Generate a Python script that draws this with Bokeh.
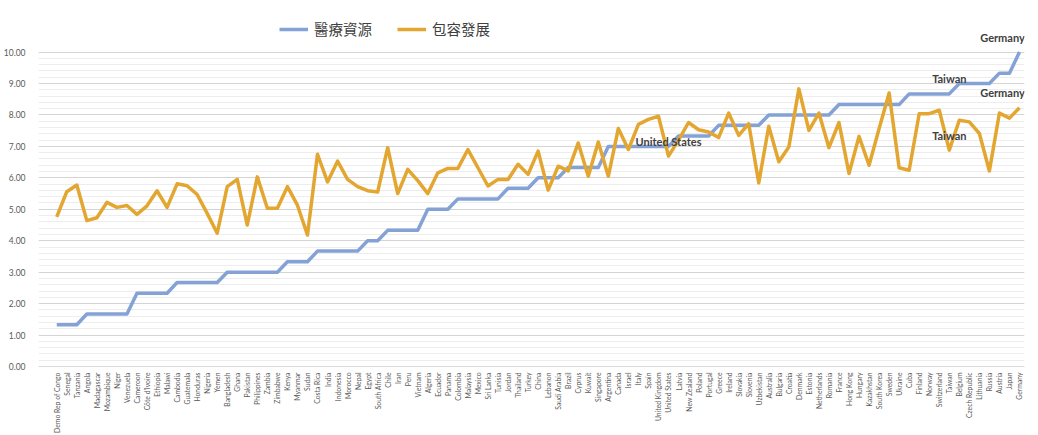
import math
from bokeh.plotting import figure
from bokeh.models import (Range1d, FixedTicker, Legend, LegendItem,
                          Label, ColumnDataSource, NumeralTickFormatter)
from bokeh.embed import file_html
from bokeh.resources import INLINE

countries = [
    "Demo Rep of Congo", "Senegal", "Tanzania", "Angola", "Madagascar", "Mozambique", "Niger",
    "Venezuela", "Cameroon", "Côte d'Ivoire", "Ethiopia", "Malawi", "Cambodia", "Guatemala",
    "Honduras", "Nigeria", "Yemen", "Bangladesh", "Ghana", "Pakistan", "Philippines", "Zambia",
    "Zimbabwe", "Kenya", "Myanmar", "Sudan", "Costa Rica", "India", "Indonesia", "Morocco",
    "Nepal", "Egypt", "South Africa", "Chile", "Iran", "Peru", "Vietnam", "Algeria", "Ecuador",
    "Panama", "Colombia", "Malaysia", "Mexico", "Sri Lanka", "Tunisia", "Jordan", "Thailand",
    "Turkey", "China", "Lebanon", "Saudi Arabia", "Brazil", "Cyprus", "Kuwait", "Singapore",
    "Argentina", "Canada", "Israel", "Italy", "Spain", "United Kingdom", "United States",
    "Latvia", "New Zealand", "Poland", "Portugal", "Greece", "Ireland", "Slovakia", "Slovenia",
    "Uzbekistan", "Australia", "Bulgaria", "Croatia", "Denmark", "Estonia", "Netherlands",
    "Romania", "France", "Hong Kong", "Hungary", "Kazakhstan", "South Korea", "Sweden",
    "Ukraine", "Cuba", "Finland", "Norway", "Switzerland", "Taiwan", "Belgium",
    "Czech Republic", "Lithuania", "Russia", "Austria", "Japan", "Germany",
]

# 醫療資源
medical = [
    1.33, 1.33, 1.33,
    1.67, 1.67, 1.67, 1.67, 1.67,
    2.33, 2.33, 2.33, 2.33,
    2.67, 2.67, 2.67, 2.67, 2.67,
    3.00, 3.00, 3.00, 3.00, 3.00, 3.00,
    3.33, 3.33, 3.33,
    3.67, 3.67, 3.67, 3.67, 3.67,
    4.00, 4.00,
    4.33, 4.33, 4.33, 4.33,
    5.00, 5.00, 5.00,
    5.33, 5.33, 5.33, 5.33, 5.33,
    5.67, 5.67, 5.67,
    6.00, 6.00, 6.00,
    6.33, 6.33, 6.33, 6.33,
    7.00, 7.00, 7.00, 7.00, 7.00, 7.00, 7.00,
    7.33, 7.33, 7.33, 7.33,
    7.67, 7.67, 7.67, 7.67, 7.67,
    8.00, 8.00, 8.00, 8.00, 8.00, 8.00, 8.00,
    8.33, 8.33, 8.33, 8.33, 8.33, 8.33, 8.33,
    8.67, 8.67, 8.67, 8.67, 8.67,
    9.00, 9.00, 9.00, 9.00,
    9.33, 9.33,
    10.00,
]

# 包容發展
inclusive = [
    4.76, 5.56, 5.77, 4.64, 4.73, 5.22, 5.06, 5.12, 4.84, 5.11,
    5.59, 5.06, 5.81, 5.75, 5.47, 4.87, 4.24, 5.72, 5.95, 4.50,
    6.03, 5.03, 5.03, 5.72, 5.13, 4.18, 6.75, 5.87, 6.53, 5.95,
    5.72, 5.59, 5.55, 6.96, 5.50, 6.27, 5.91, 5.50, 6.16, 6.30,
    6.30, 6.90, 6.32, 5.74, 5.95, 5.95, 6.43, 6.11, 6.85, 5.61,
    6.37, 6.22, 7.11, 6.05, 7.14, 6.05, 7.57, 6.90, 7.70, 7.86,
    7.96, 6.69, 7.20, 7.76, 7.53, 7.46, 7.28, 8.06, 7.35, 7.72,
    5.84, 7.64, 6.51, 6.98, 8.83, 7.51, 8.06, 6.96, 7.76, 6.14,
    7.32, 6.40, 7.56, 8.70, 6.32, 6.24, 8.04, 8.04, 8.15, 6.88,
    7.83, 7.78, 7.41, 6.22, 8.06, 7.90, 8.23,
]

series_names = ["醫療資源", "包容發展"]
y_major = [0, 1, 2, 3, 4, 5, 6, 7, 8, 9, 10]

BLUE = "#84A2D6"
GOLD = "#E3A630"
TXT = "#595959"

idx = list(range(len(countries)))
src = ColumnDataSource(dict(x=idx, country=countries, medical=medical, inclusive=inclusive))

# frame spans full height above the x axis; the value 10 sits ~52px below the top
p = figure(width=1030, height=435, output_backend="svg", toolbar_location=None,
           x_range=Range1d(-1.82, len(countries) - 0.5), y_range=Range1d(0, 11.64),
           min_border_left=32, min_border_right=6, min_border_top=0, min_border_bottom=68)
p.outline_line_color = None
p.background_fill_color = "white"
p.border_fill_color = "white"

r1 = p.line("x", "medical", source=src, line_color=BLUE, line_width=3.5, line_join="round")
r2 = p.line("x", "inclusive", source=src, line_color=GOLD, line_width=3.5, line_join="round")

# axes
p.xaxis.ticker = FixedTicker(ticks=idx)
p.xaxis.major_label_overrides = {i: c for i, c in zip(idx, countries)}
p.xaxis.major_label_orientation = math.pi / 2
p.xaxis.major_label_text_font = "Lato"
p.xaxis.major_label_text_font_size = "6.8px"
p.xaxis.major_label_text_color = TXT
p.xaxis.major_tick_line_color = None
p.xaxis.minor_tick_line_color = None
p.xaxis.major_tick_out = 0
p.xaxis.major_label_standoff = 6
p.xaxis.axis_line_color = "#d9d9d9"

yt = FixedTicker(ticks=y_major, minor_ticks=[k / 5 for k in range(0, 51)])
p.yaxis.ticker = yt
p.yaxis.formatter = NumeralTickFormatter(format="0.00")
p.yaxis.major_label_text_font = "Lato"
p.yaxis.major_label_text_font_size = "8.5px"
p.yaxis.major_label_text_color = TXT
p.yaxis.axis_line_color = None
p.yaxis.major_tick_line_color = None
p.yaxis.minor_tick_line_color = None
p.yaxis.major_tick_out = 0
p.yaxis.major_label_standoff = 9

p.xgrid.grid_line_color = None
p.ygrid.ticker = yt
p.ygrid.grid_line_color = "#d4d4d4"
p.ygrid.minor_grid_line_color = "#ededed"

legend = Legend(items=[LegendItem(label=series_names[0], renderers=[r1]),
                       LegendItem(label=series_names[1], renderers=[r2])],
                location=(241, 327), orientation="horizontal",
                glyph_width=29, glyph_height=20, label_height=20, label_standoff=6,
                spacing=25, padding=0, margin=0,
                border_line_color=None, background_fill_alpha=0,
                label_text_font="Noto Sans CJK TC", label_text_font_size="14.5px",
                label_text_color="#404040")
p.add_layout(legend)


def add_label(name, values, dx=0):
    i = countries.index(name)
    p.add_layout(Label(x=i, y=values[i], text=name, text_align="center",
                       text_baseline="middle", y_offset=15, x_offset=dx,
                       text_font="Lato", text_font_style="bold", text_font_size="11px",
                       text_color="#404040"))


add_label("United States", inclusive)
add_label("Taiwan", medical)
add_label("Taiwan", inclusive)
add_label("Germany", medical, dx=-17)
add_label("Germany", inclusive, dx=-17)

open("out.html", "w").write(file_html(p, INLINE))
